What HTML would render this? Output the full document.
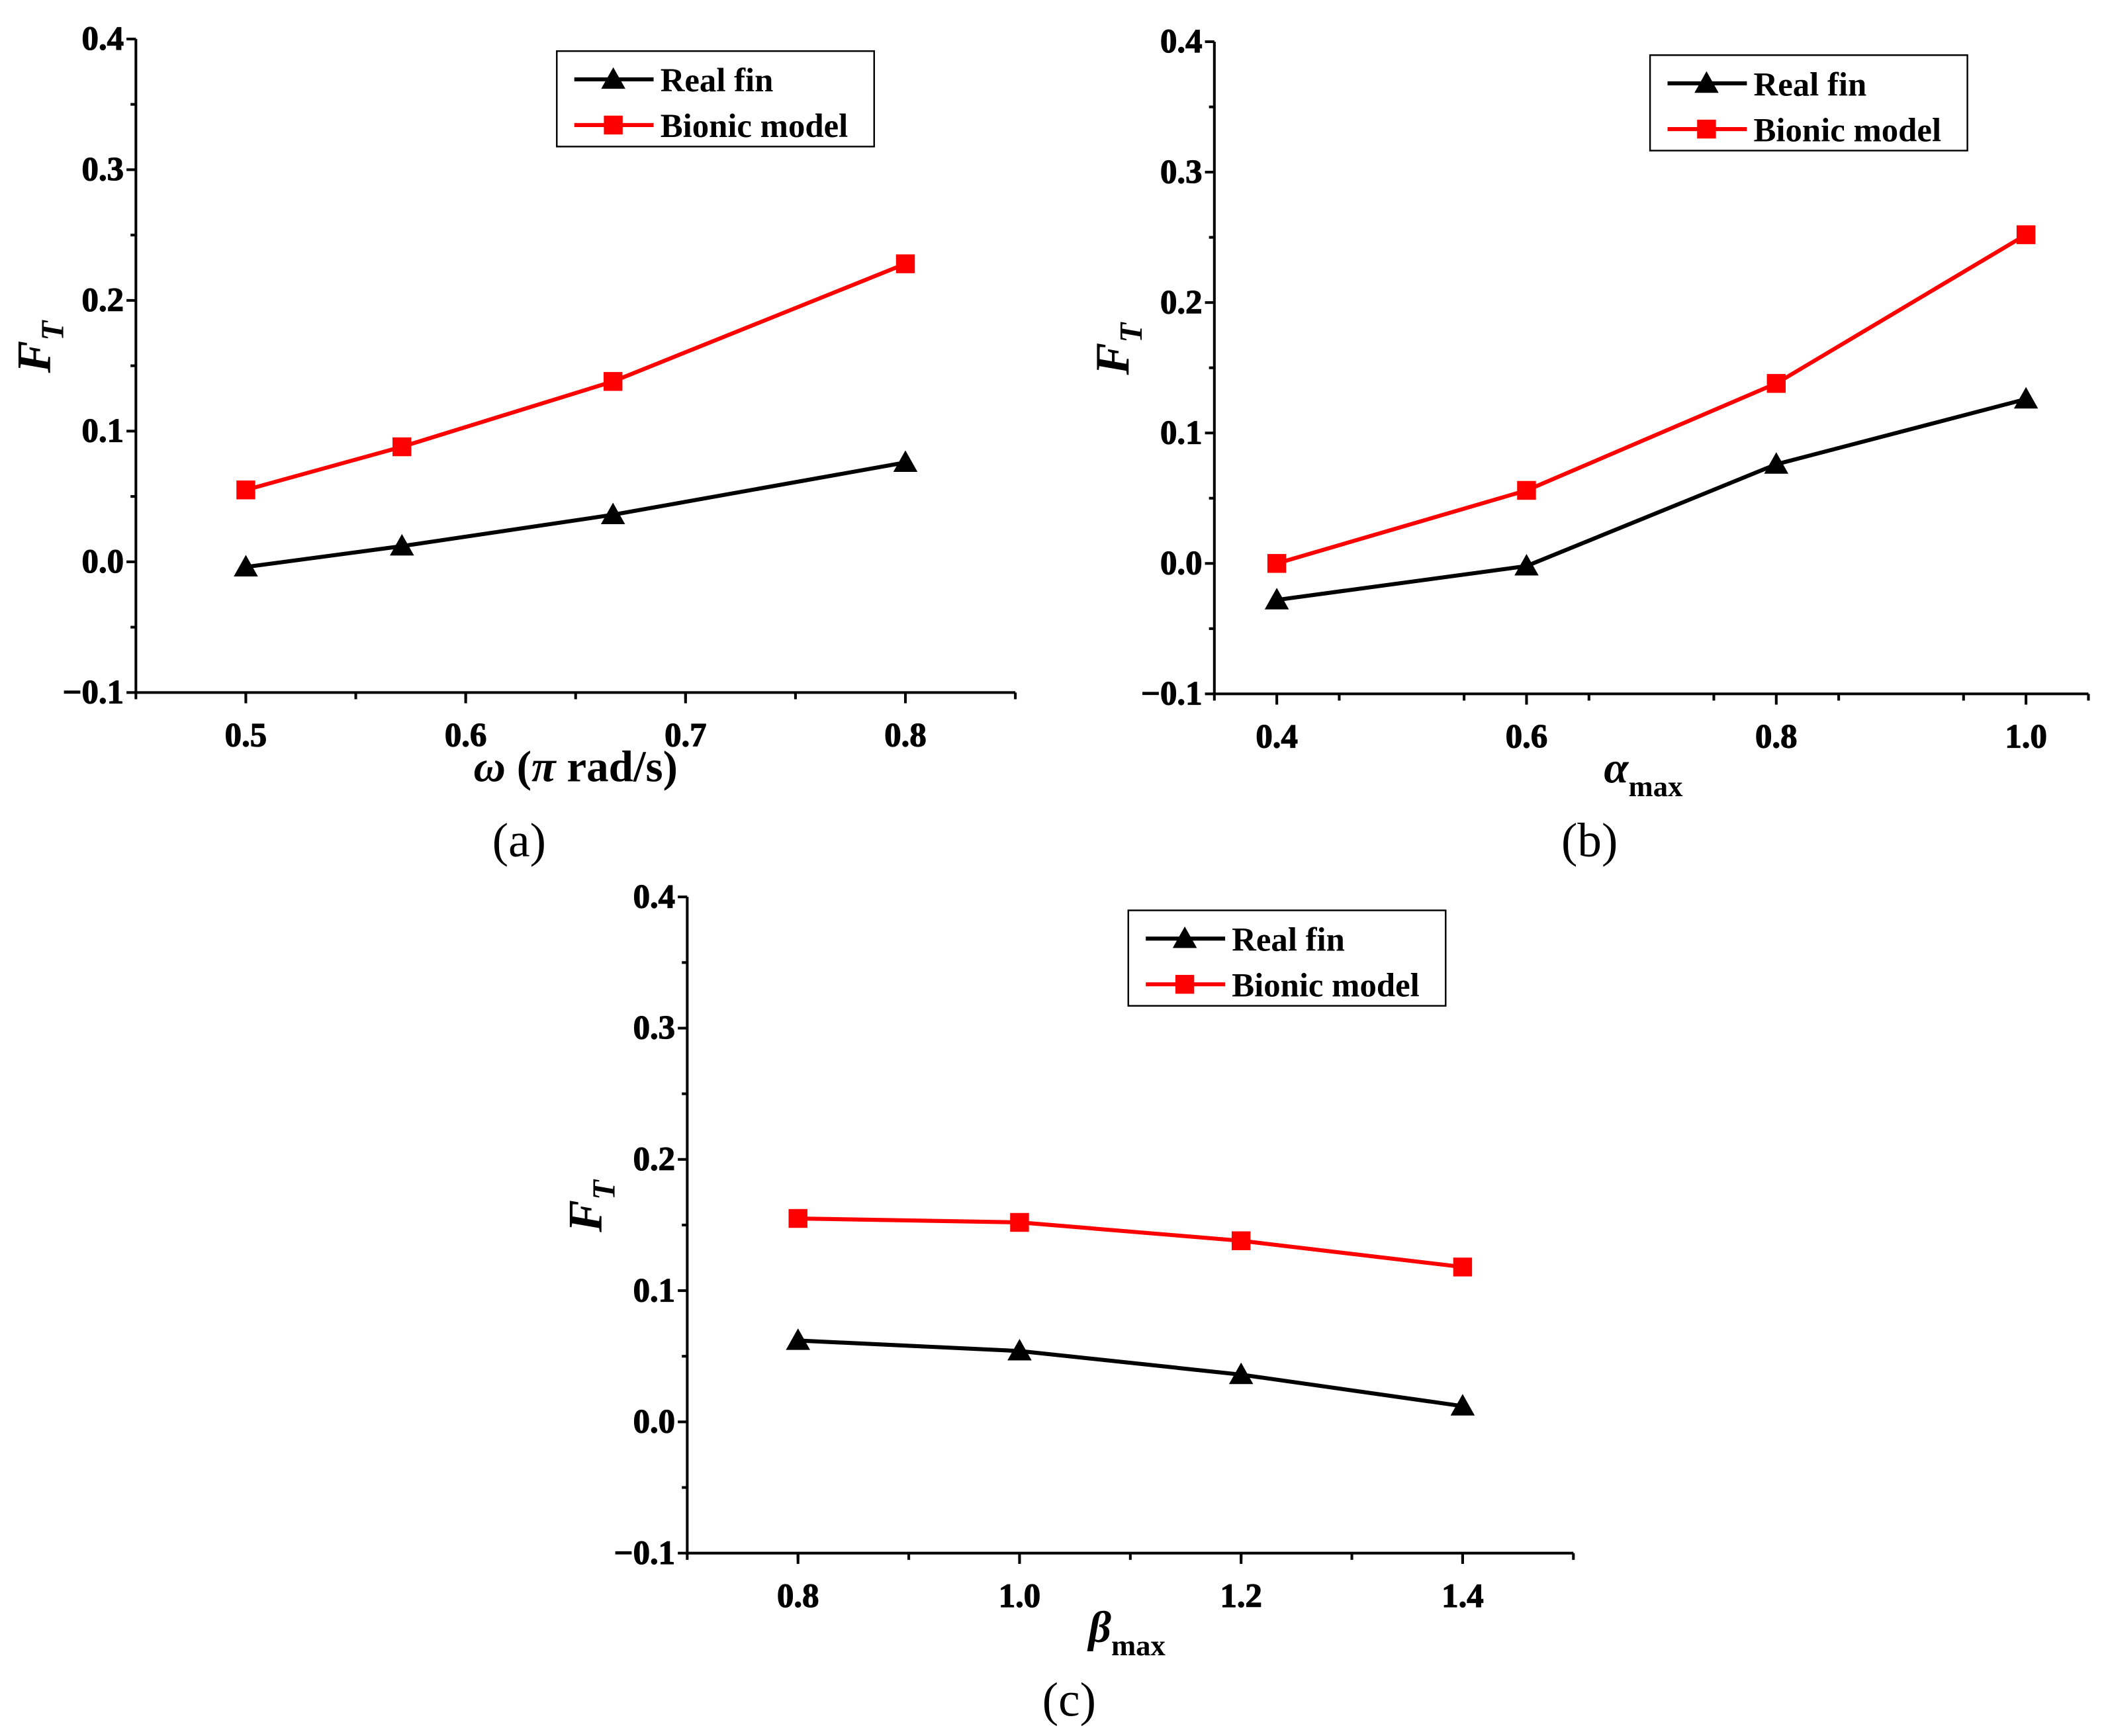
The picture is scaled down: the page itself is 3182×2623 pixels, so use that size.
<!DOCTYPE html>
<html><head><meta charset="utf-8"><style>
html,body{margin:0;padding:0;background:#fff;}
svg{display:block;}
text{font-family:"Liberation Serif",serif;font-weight:bold;fill:#000;}
</style></head><body>
<svg id="fig" width="3182" height="2623" viewBox="0 0 1566 1291" xmlns="http://www.w3.org/2000/svg"></svg>
<script>
const xA=[0.5,0.571,0.667,0.8];
const realA=[-0.004,0.012,0.036,0.076];
const bionA=[0.055,0.088,0.138,0.228];
const xB=[0.4,0.6,0.8,1.0];
const realB=[-0.028,-0.002,0.076,0.126];
const bionB=[0.0,0.056,0.138,0.252];
const xC=[0.8,1.0,1.2,1.4];
const realC=[0.062,0.054,0.036,0.012];
const bionC=[0.155,0.152,0.138,0.118];
const yTicks=[-0.1,0.0,0.1,0.2,0.3,0.4];
const yTickLabels=["\u22120.1","0.0","0.1","0.2","0.3","0.4"];
const xTicksA=[0.5,0.6,0.7,0.8];
const xTicksB=[0.4,0.6,0.8,1.0];
const xTicksC=[0.8,1.0,1.2,1.4];

const NS="http://www.w3.org/2000/svg";
const svg=document.getElementById('fig');
function mk(tag,attrs,parent){const e=document.createElementNS(NS,tag);for(const k in attrs)e.setAttribute(k,attrs[k]);(parent||svg).appendChild(e);return e;}

function panel(id,cfg){
  const g=mk('g',{});
  
  
  const L=cfg.left,R=cfg.right,T=cfg.top,B=cfg.bottom;
  const sx=v=>L+(v-cfg.xmin)/(cfg.xmax-cfg.xmin)*(R-L);
  const sy=v=>B-(v+0.1)/0.5*(B-T);
  const ax=mk('path',{d:`M${L},${T} L${L},${B} L${R},${B}`,fill:'none',stroke:'#000','stroke-width':2},g);
  
  
  yTicks.forEach((v,i)=>{
    mk('line',{x1:L-7,x2:L,y1:sy(v),y2:sy(v),stroke:'#000','stroke-width':2},g);
    if(i<yTicks.length-1) mk('line',{x1:L-4,x2:L,y1:sy(v+0.05),y2:sy(v+0.05),stroke:'#000','stroke-width':2},g);
    const t=mk('text',{x:L-9,y:sy(v)+8,'text-anchor':'end','font-size':25,'stroke':'#000','stroke-width':0.6},g);
    t.textContent=yTickLabels[i];
    
    
  });
  for(let v=cfg.xmin;v<=cfg.xmax+1e-9;v+=cfg.minor){
    mk('line',{x1:sx(v),x2:sx(v),y1:B,y2:B+5,stroke:'#000','stroke-width':2},g);
  }
  cfg.xticks.forEach(v=>{
    mk('line',{x1:sx(v),x2:sx(v),y1:B,y2:B+8,stroke:'#000','stroke-width':2},g);
    const t=mk('text',{x:sx(v),y:B+40,'text-anchor':'middle','font-size':25,'stroke':'#000','stroke-width':0.6},g);
    t.textContent=v.toFixed(1);
    
    
  });
  const yt=mk('text',{transform:`translate(${L-64},${(T+B)/2-14}) rotate(-90)`,'font-size':36,'font-style':'italic','text-anchor':'middle'},g);
  yt.innerHTML='F<tspan font-size="24" dy="10">T</tspan>';
  
  
  const xt=mk('text',{x:cfg.xtx,y:B+66,'text-anchor':'middle','font-size':33},g);
  xt.innerHTML=cfg.xtitle;
  
  
  function series(xs,ys,color,marker,name){
    const sg=mk('g',{},g);
    
    
    mk('polyline',{points:xs.map((x,i)=>sx(x)+','+sy(ys[i])).join(' '),fill:'none',stroke:color,'stroke-width':3},sg);
    xs.forEach((x,i)=>{
      const px=sx(x),py=sy(ys[i]);
      let m;
      if(marker==='tri') m=mk('polygon',{points:`${px},${py-9} ${px-9},${py+7} ${px+9},${py+7}`,fill:color},sg);
      else m=mk('rect',{x:px-7,y:py-7,width:14,height:14,fill:color},sg);
      
      
    });
  }
  series(cfg.xs,cfg.bion,'#ff0000','sq','bionic-model-series');
  series(cfg.xs,cfg.real,'#000000','tri','real-fin-series');
  const lg=mk('g',{},g);
  
  
  const lx=cfg.lx,ly=cfg.ly;
  mk('rect',{x:lx,y:ly,width:236,height:71,fill:'#fff',stroke:'#000','stroke-width':1.2},lg);
  mk('line',{x1:lx+13,x2:lx+72,y1:ly+21,y2:ly+21,stroke:'#000','stroke-width':3},lg);
  mk('polygon',{points:`${lx+42},${ly+12} ${lx+33},${ly+28} ${lx+51},${ly+28}`,fill:'#000'},lg);
  mk('line',{x1:lx+13,x2:lx+72,y1:ly+55,y2:ly+55,stroke:'#f00','stroke-width':3},lg);
  mk('rect',{x:lx+35,y:ly+48,width:14,height:14,fill:'#f00'},lg);
  const t1=mk('text',{x:lx+77,y:ly+30,'font-size':25},lg);t1.textContent='Real fin';
  
  
  const t2=mk('text',{x:lx+77,y:ly+64,'font-size':25},lg);t2.textContent='Bionic model';
  
  
  const c=mk('text',{x:cfg.capx,y:cfg.capy,'text-anchor':'middle','font-size':36},g);
  c.style.fontWeight='normal';
  c.textContent=cfg.cap;
  
  
}
panel('panel-a',{left:101,right:755,top:29,bottom:515,xmin:0.45,xmax:0.85,minor:0.05,xticks:xTicksA,xs:xA,real:realA,bion:bionA,
  xtitle:'<tspan font-style="italic">ω</tspan> (<tspan font-style="italic">π</tspan> rad/s)',xtx:428,lx:414,ly:38,cap:'(a)',capx:386,capy:637});
panel('panel-b',{left:903,right:1553,top:31,bottom:516,xmin:0.35,xmax:1.05,minor:0.1,xticks:xTicksB,xs:xB,real:realB,bion:bionB,
  xtitle:'<tspan font-style="italic">α</tspan><tspan font-size="22" dy="10">max</tspan>',xtx:1222,lx:1227,ly:41,cap:'(b)',capx:1182,capy:637});
panel('panel-c',{left:511,right:1170,top:667,bottom:1155,xmin:0.7,xmax:1.5,minor:0.1,xticks:xTicksC,xs:xC,real:realC,bion:bionC,
  xtitle:'<tspan font-style="italic">β</tspan><tspan font-size="22" dy="10">max</tspan>',xtx:838,lx:839,ly:677,cap:'(c)',capx:795,capy:1276});
</script>
</body></html>
